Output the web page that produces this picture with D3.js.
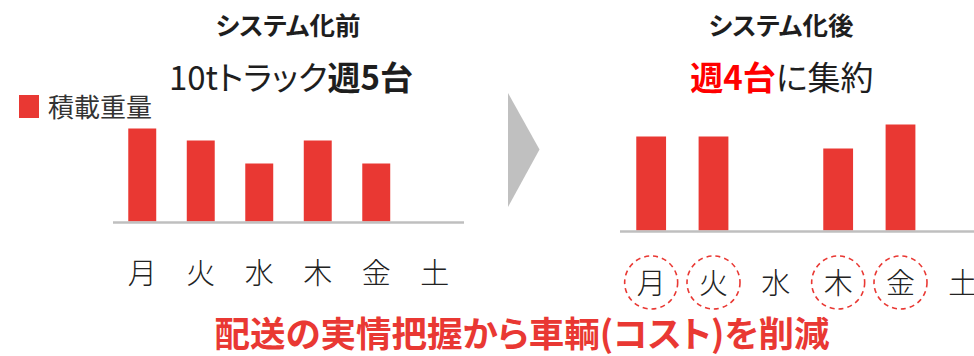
<!DOCTYPE html>
<html><head><meta charset="utf-8">
<script src="https://cdn.jsdelivr.net/npm/d3@7"></script>
<style>
html,body{margin:0;padding:0;background:#fff;}
svg{display:block;font-family:"Noto Sans CJK JP","Noto Sans",sans-serif;}
</style></head>
<body>
<script>
// ---- data ----
const days = ["月", "火", "水", "木", "金", "土"];
const beforeValues = [9.3, 8.1, 5.8, 8.1, 5.8, 0];   // 積載重量 システム化前
const afterValues  = [9.4, 9.4, 0, 8.2, 10.6, 0];    // 積載重量 システム化後
const legendLabel = "積載重量";
const beforeTitle = "システム化前";
const afterTitle = "システム化後";
const beforeSub = [["10tトラック", false], ["週5台", true]];
const afterSub = [["週4台", true], ["に集約", false]];
const footer = "配送の実情把握から車輌(コスト)を削減";

const W = 974, H = 356;
const RED = "#e93833";
const svg = d3.select("body").append("svg").attr("width", W).attr("height", H);

function panel(values, x0, x1, base, labelY, lineEnd, circled) {
  const x = d3.scaleBand().domain(days).range([x0, x1]).paddingInner(0.522).paddingOuter(0.261);
  const y = d3.scaleLinear().domain([0, 10]).range([base, base - 100]);
  const g = svg.append("g");
  g.selectAll("rect").data(days).join("rect")
    .attr("x", d => x(d))
    .attr("y", (d, i) => y(values[i]))
    .attr("width", x.bandwidth())
    .attr("height", (d, i) => y(0) - y(values[i]))
    .attr("fill", RED);
  g.append("line").attr("x1", x0).attr("x2", lineEnd).attr("y1", base + 1).attr("y2", base + 1)
    .attr("stroke", "#bfbfbf").attr("stroke-width", 2.5);
  g.selectAll("text.day").data(days).join("text").attr("class", "day")
    .attr("x", d => x(d) + x.bandwidth() / 2)
    .attr("y", labelY)
    .attr("text-anchor", "middle")
    .attr("font-size", 29).attr("font-weight", 300).attr("fill", "#222")
    .text(d => d);
  if (circled) {
    g.selectAll("circle").data(days.filter((d, i) => values[i] > 0)).join("circle")
      .attr("cx", d => x(d) + x.bandwidth() / 2)
      .attr("cy", labelY - 11.5)
      .attr("r", 26.5)
      .attr("fill", "none").attr("stroke", RED).attr("stroke-width", 1.6)
      .attr("stroke-dasharray", "5,4");
  }
  return x;
}

panel(beforeValues, 113, 464, 221.5, 284, 464, false);
panel(afterValues, 620, 994, 230.5, 294, 974, true);

// titles
function title(txt, cx) {
  svg.append("text").attr("x", cx).attr("y", 35).attr("text-anchor", "middle")
    .attr("font-size", 25.5).attr("font-weight", 700).attr("fill", "#1e1e1e")
    .style("font-feature-settings", "'palt'")
    .text(txt);
}
title(beforeTitle, 288);
title(afterTitle, 781);

function sub(parts, cx, boldColor) {
  const t = svg.append("text").attr("x", cx).attr("y", 90).attr("text-anchor", "middle")
    .attr("font-size", 33).attr("fill", "#1e1e1e")
    .style("font-feature-settings", "'palt'");
  parts.forEach(([s, b]) => {
    t.append("tspan").attr("font-weight", b ? 700 : 400)
      .attr("fill", b ? boldColor : "#1e1e1e").text(s);
  });
}
sub(beforeSub, 291, "#1e1e1e");
sub(afterSub, 782, "#ff0000");

// legend
svg.append("rect").attr("x", 19).attr("y", 95).attr("width", 20).attr("height", 23).attr("fill", RED);
svg.append("text").attr("x", 48).attr("y", 117).attr("font-size", 26).attr("fill", "#333")
  .text(legendLabel);

// arrow
svg.append("path").attr("d", d3.line()([[508, 93], [539.5, 149.5], [508, 207]]) + "Z").attr("fill", "#c0c0c0");

// footer
svg.append("text").attr("x", 522).attr("y", 347).attr("text-anchor", "middle")
  .attr("font-size", 35.5).attr("font-weight", 700).attr("fill", RED)
  .style("font-feature-settings", "'palt'")
  .text(footer);
</script>
</body></html>
